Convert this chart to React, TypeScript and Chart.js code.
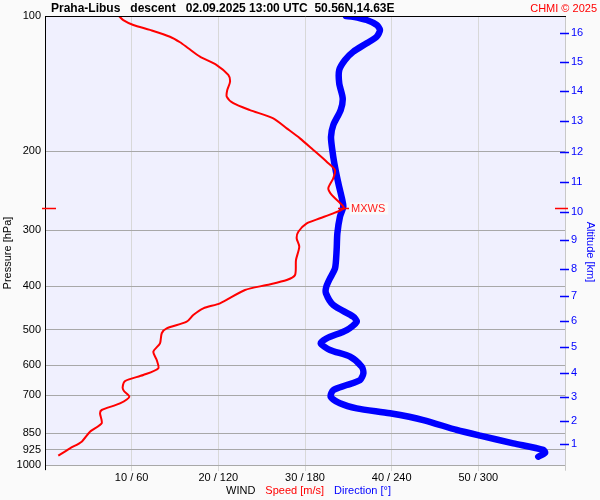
import React, { useEffect, useRef } from 'react';
import { Chart, registerables } from 'chart.js';
Chart.register(...registerables);

const FONT = "'Liberation Sans', Arial, sans-serif";

const speedPressure = [100, 102.1, 104.7, 107.4, 111.2, 114.4, 118.0, 123.2, 128.6, 135.3, 140.1, 146.2, 151.2, 156.4, 162.0, 169.0, 177.9, 187.3, 198.8, 211.1, 220.3, 229.9, 242.0, 250.4, 267.7, 275.1, 282.2, 289.6, 302.3, 312.7, 326.5, 349.5, 377.5, 387.3, 397.3, 407.6, 436.4, 447.7, 463.4, 479.6, 496.2, 508.8, 535.8, 559.3, 583.6, 609.0, 630.4, 650.1, 671.4, 684.1, 704.5, 728.8, 754.3, 767.2, 807.5, 842.9, 887.3, 918.1, 953.4];
const speedValues = [8.54, 9.03, 10.19, 12.11, 14.42, 15.58, 16.53, 17.88, 19.81, 21.15, 21.35, 21.03, 20.97, 21.73, 23.65, 26.34, 27.89, 29.42, 30.96, 32.5, 33.46, 33.26, 32.69, 33.08, 34.5, 33.26, 31.73, 30.2, 29.23, 29.04, 29.34, 28.96, 28.85, 27.89, 25.58, 23.08, 20.19, 18.27, 17.11, 16.35, 14.04, 13.47, 13.27, 12.5, 12.89, 13.07, 11.34, 9.23, 8.96, 9.11, 9.73, 8.65, 6.54, 6.35, 6.54, 5.19, 4.23, 2.88, 1.53];

const dirPressure = [100, 100.4, 102.1, 104.7, 107.4, 111.2, 115.0, 120.1, 125.3, 131.9, 141.2, 152.5, 162.0, 174.9, 185.8, 198.8, 212.8, 235.8, 256.9, 265.9, 279.9, 304.8, 332.0, 364.7, 383.9, 401.4, 414.5, 440.3, 467.4, 479.6, 500.6, 522.3, 535.8, 554.4, 573.8, 604.1, 624.9, 646.8, 663.6, 680.8, 704.5, 728.8, 747.8, 767.2, 794.1, 835.6, 860.5, 894.7, 925.8, 939.0, 958.3];
const dirValues = [208.4, 213.4, 222.7, 229.6, 231.9, 229.6, 222.7, 213.4, 207.7, 203.7, 203.7, 206.1, 204.7, 199.6, 198.0, 198.9, 200.3, 203.1, 205.8, 206.5, 204.2, 202.4, 201.9, 200.8, 197.3, 194.7, 194.5, 199.6, 213.4, 215.8, 208.9, 195.0, 190.9, 197.3, 211.2, 219.3, 220.4, 218.1, 208.9, 199.6, 197.8, 204.2, 215.8, 238.8, 261.9, 285.0, 301.2, 324.2, 345.0, 346.2, 341.5];

const pressureTicks = [100, 200, 300, 400, 500, 600, 700, 850, 925, 1000];
const speedTicks = [10, 20, 30, 40, 50];
const dirTicks = [60, 120, 180, 240, 300];
const altitudeKm = [16, 15, 14, 13, 12, 11, 10, 9, 8, 7, 6, 5, 4, 3, 2, 1];
const altitudePressure = [108.9, 126.6, 147.2, 171.3, 200.9, 234.6, 273.7, 315.9, 366.0, 420.3, 477.9, 546.8, 622.9, 704.5, 798.0, 898.9];

const titleText = 'Praha-Libus   descent   02.09.2025 13:00 UTC  50.56N,14.63E';
const copyrightText = 'CHMI © 2025';

const decor = {
  id: 'decor',
  beforeDraw(chart: any) {
    const { ctx, chartArea: a, width, height } = chart;
    ctx.save();
    ctx.fillStyle = '#fafafa';
    ctx.fillRect(0, 0, width, height);
    ctx.fillStyle = '#f0f0fe';
    ctx.fillRect(a.left, a.top, a.right - a.left, a.bottom - a.top);
    ctx.restore();
  },
  afterDraw(chart: any) {
    const { ctx, chartArea: a, scales } = chart;
    ctx.save();
    // frame
    ctx.lineWidth = 1;
    ctx.strokeStyle = '#c8c8c8';
    ctx.beginPath();
    ctx.moveTo(a.right + 0.5, a.top);
    ctx.lineTo(a.right + 0.5, a.bottom + 5);
    ctx.stroke();
    ctx.strokeStyle = '#000';
    ctx.beginPath();
    ctx.moveTo(a.left, a.top + 0.5);
    ctx.lineTo(a.right + 1, a.top + 0.5);
    ctx.moveTo(a.left + 0.5, a.top);
    ctx.lineTo(a.left + 0.5, a.bottom + 5);
    ctx.stroke();

    // altitude ticks
    const y2 = scales.y2;
    ctx.strokeStyle = '#0000ff';
    ctx.lineWidth = 1.5;
    ctx.beginPath();
    altitudePressure.forEach((p) => {
      const y = Math.round(y2.getPixelForValue(p)) + 0.5;
      ctx.moveTo(a.right - 5, y);
      ctx.lineTo(a.right + 4, y);
    });
    ctx.stroke();

    // MXWS
    let mi = 0;
    speedValues.forEach((v, i) => { if (v > speedValues[mi]) mi = i; });
    const my = Math.round(scales.y.getPixelForValue(speedPressure[mi])) + 0.5;
    const mx = scales.x.getPixelForValue(speedValues[mi]);
    ctx.strokeStyle = '#ff0000';
    ctx.lineWidth = 1.5;
    ctx.beginPath();
    ctx.moveTo(a.left - 3, my); ctx.lineTo(a.left + 11, my);
    ctx.moveTo(a.right - 10, my); ctx.lineTo(a.right + 3, my);
    ctx.moveTo(mx - 6, my); ctx.lineTo(mx + 5, my);
    ctx.stroke();
    ctx.font = `11px ${FONT}`;
    ctx.textBaseline = 'middle';
    const lw = ctx.measureText('MXWS').width;
    ctx.fillStyle = '#fafafa';
    ctx.fillRect(mx + 6, my - 6, lw + 4, 12);
    ctx.fillStyle = '#ff2020';
    ctx.textAlign = 'left';
    ctx.fillText('MXWS', mx + 7, my + 0.5);

    // titles
    ctx.fillStyle = '#000';
    ctx.font = `bold 12px ${FONT}`;
    ctx.textAlign = 'left';
    ctx.fillText(titleText, 51, 8.5);
    ctx.fillStyle = '#ff0000';
    ctx.font = `11px ${FONT}`;
    ctx.textAlign = 'right';
    ctx.fillText(copyrightText, 597, 8.5);

    // bottom legend
    ctx.textAlign = 'left';
    ctx.font = `11px ${FONT}`;
    const parts: [string, string][] = [['WIND', '#000000'], ['Speed [m/s]', '#ff0000'], ['Direction [°]', '#0000ff']];
    let x = 226;
    parts.forEach(([t, c]) => {
      ctx.fillStyle = c;
      ctx.fillText(t, x, 491);
      x += ctx.measureText(t).width + 10;
    });

    // axis titles
    ctx.save();
    ctx.translate(8, 253);
    ctx.rotate(-Math.PI / 2);
    ctx.textAlign = 'center';
    ctx.fillStyle = '#000';
    ctx.fillText('Pressure [hPa]', 0, 0);
    ctx.restore();
    ctx.save();
    ctx.translate(590, 252);
    ctx.rotate(Math.PI / 2);
    ctx.textAlign = 'center';
    ctx.fillStyle = '#0000ff';
    ctx.fillText('Altitude [km]', 0, 0);
    ctx.restore();

    ctx.restore();
  },
};

export default function App() {
  const ref = useRef<HTMLCanvasElement>(null);
  useEffect(() => {
    const chart = new Chart(ref.current as HTMLCanvasElement, {
      type: 'scatter',
      data: {
        datasets: [
          {
            label: 'Speed [m/s]',
            data: speedValues.map((v, i) => ({ x: v, y: speedPressure[i] })),
            showLine: true,
            borderColor: '#ff0000',
            borderWidth: 2,
            pointRadius: 0,
            tension: 0.25,
            xAxisID: 'x',
            yAxisID: 'y',
          },
          {
            label: 'Direction [°]',
            data: dirValues.map((v, i) => ({ x: v, y: dirPressure[i] })),
            showLine: true,
            borderColor: '#0000ff',
            borderWidth: 6.5,
            borderCapStyle: 'round',
            borderJoinStyle: 'round',
            pointRadius: 0,
            tension: 0.25,
            xAxisID: 'xd',
            yAxisID: 'y',
          },
        ],
      } as any,
      options: {
        animation: false,
        responsive: true,
        maintainAspectRatio: false,
        layout: { padding: { top: 16, left: 0, right: 0, bottom: 0 } },
        plugins: { legend: { display: false }, tooltip: { enabled: false }, title: { display: false } },
        scales: {
          x: {
            type: 'linear',
            position: 'bottom',
            min: 0,
            max: 60,
            afterBuildTicks: (s: any) => { s.ticks = [0, ...speedTicks, 60].map((v) => ({ value: v })); },
            afterFit: (s: any) => { s.height = 35; },
            grid: { color: '#d8d8d8', tickColor: '#d8d8d8', drawTicks: true, tickLength: 6 },
            border: { display: false },
            ticks: {
              autoSkip: false,
              maxRotation: 0,
              padding: 0,
              color: '#000',
              font: { family: FONT, size: 11 },
              callback: (v: any) => {
                const k = speedTicks.indexOf(Number(v));
                return k < 0 ? '' : `${speedTicks[k]} / ${dirTicks[k]}`;
              },
            },
          },
          xd: { type: 'linear', display: false, min: 0, max: 360 },
          y: {
            type: 'logarithmic',
            position: 'left',
            reverse: true,
            min: 100,
            max: 1000,
            afterBuildTicks: (s: any) => { s.ticks = pressureTicks.map((v) => ({ value: v })); },
            afterFit: (s: any) => { s.width = 45; },
            grid: { color: '#a8a8a8', drawTicks: false },
            border: { display: false },
            ticks: {
              autoSkip: false,
              padding: 4,
              color: '#000',
              font: { family: FONT, size: 11 },
              callback: (v: any) => String(v),
            },
          },
          y2: {
            type: 'logarithmic',
            position: 'right',
            reverse: true,
            min: 100,
            max: 1000,
            afterBuildTicks: (s: any) => { s.ticks = altitudePressure.map((v) => ({ value: v })); },
            afterFit: (s: any) => { s.width = 35; },
            grid: { display: false, drawOnChartArea: false, drawTicks: false },
            border: { display: false },
            ticks: {
              autoSkip: false,
              padding: 6,
              color: '#0000ff',
              font: { family: FONT, size: 11 },
              callback: (v: any, i: number) => String(altitudeKm[i]),
            },
          },
        },
      } as any,
      plugins: [decor],
    });
    return () => chart.destroy();
  }, []);
  return (
    <div style={{ position: 'fixed', left: 0, top: 0, width: 600, height: 500 }}>
      <canvas ref={ref} />
    </div>
  );
}
